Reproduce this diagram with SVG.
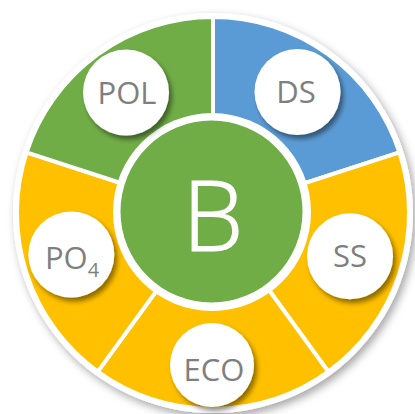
<svg xmlns="http://www.w3.org/2000/svg" width="415" height="414" viewBox="0 0 415 414">
<defs>
<filter id="outerShadow" x="-10%" y="-10%" width="125%" height="125%">
<feDropShadow dx="3" dy="4" stdDeviation="4" flood-color="#000" flood-opacity="0.35"/>
</filter>
<filter id="bubbleShadow" x="-30%" y="-30%" width="170%" height="170%">
<feDropShadow dx="3" dy="4" stdDeviation="2.5" flood-color="#000" flood-opacity="0.45"/>
</filter>
</defs>
<style>
.seg{stroke:#FFFFFF;stroke-width:4;stroke-linejoin:miter}
.green{fill:#70AD47}
.blue{fill:#5B9BD5}
.yellow{fill:#FFC000}
.bubble{fill:#FFFFFF;filter:url(#bubbleShadow)}
.lbl{font-family:"Open Sans","Noto Sans","Liberation Sans",sans-serif;font-size:31px;fill:#7F7F7F;text-anchor:middle}
.big{font-family:"Open Sans","Noto Sans","Liberation Sans",sans-serif;font-size:97px;font-weight:300;fill:#FFFFFF;stroke:#FFFFFF;stroke-width:1.2;text-anchor:middle}
</style>
<g id="ring">
<circle cx="213" cy="213" r="200" fill="#FFFFFF" filter="url(#outerShadow)"/>
<path id="seg-ds" class="seg blue" d="M213,213 L213,17 A196,196 0 0 1 399.41,152.43 Z"/>
<path id="seg-ss" class="seg yellow" d="M213,213 L399.41,152.43 A196,196 0 0 1 328.21,371.57 Z"/>
<path id="seg-eco" class="seg yellow" d="M213,213 L328.21,371.57 A196,196 0 0 1 97.79,371.57 Z"/>
<path id="seg-po4" class="seg yellow" d="M213,213 L97.79,371.57 A196,196 0 0 1 26.59,152.43 Z"/>
<path id="seg-pol" class="seg green" d="M213,213 L26.59,152.43 A196,196 0 0 1 213,17 Z"/>
</g>
<g id="center-B">
<circle cx="212" cy="212" r="99" fill="#FFFFFF"/>
<circle cx="211.5" cy="211.5" r="91" class="green"/>
<text class="big" x="213" y="251">B</text>
</g>
<g id="node-POL">
<circle class="bubble" cx="126" cy="92.5" r="43"/>
<text class="lbl" x="127" y="104">POL</text>
</g>
<g id="node-DS">
<circle class="bubble" cx="297.5" cy="92" r="43"/>
<text class="lbl" x="296" y="103">DS</text>
</g>
<g id="node-SS">
<circle class="bubble" cx="350" cy="256.3" r="43"/>
<text class="lbl" x="350" y="267">SS</text>
</g>
<g id="node-PO4">
<circle class="bubble" cx="71.3" cy="254.5" r="43"/>
<text class="lbl" x="72" y="268.5">PO<tspan font-size="20" dy="8">4</tspan></text>
</g>
<g id="node-ECO">
<circle class="bubble" cx="212" cy="365" r="42"/>
<text class="lbl" x="214" y="381">ECO</text>
</g>
<g id="connectors"></g>
</svg>
